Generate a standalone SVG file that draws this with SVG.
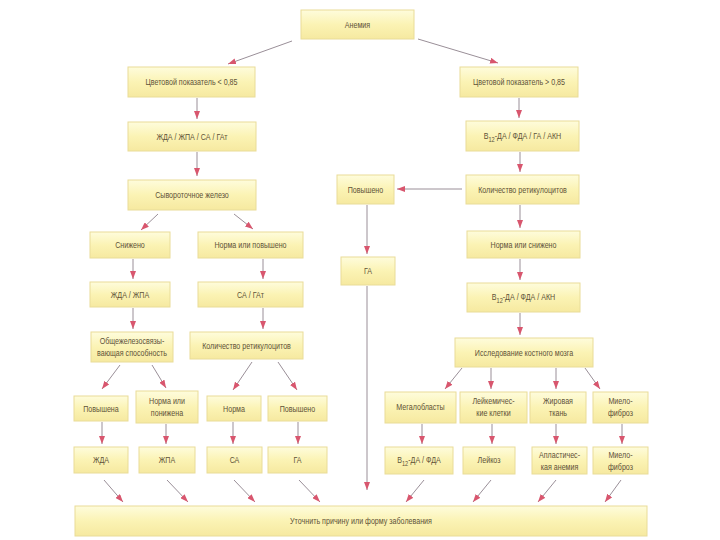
<svg xmlns="http://www.w3.org/2000/svg" width="720" height="540" viewBox="0 0 720 540">
<defs>
<linearGradient id="g" x1="0" y1="0" x2="0" y2="1">
<stop offset="0" stop-color="#fefcdc"/>
<stop offset="0.5" stop-color="#fbf3b4"/>
<stop offset="1" stop-color="#f6e9a0"/>
</linearGradient>
<marker id="ah" markerWidth="8" markerHeight="6" refX="8" refY="3" orient="auto" markerUnits="userSpaceOnUse">
<path d="M0,0 L8,3 L0,6 z" fill="#d8566e"/>
</marker>
<style>
.b rect{fill:url(#g);stroke:#e9dc98;stroke-width:1}
.b text{font-family:"Liberation Sans",Arial,sans-serif;font-size:9.5px;fill:#5e5238;text-anchor:middle}
#connectors line{stroke:#9a8f98;stroke-width:1;marker-end:url(#ah)}
</style>
</defs>
<rect width="720" height="540" fill="#ffffff"/>
<g class="b">
<g id="n1"><rect x="301" y="10" width="113" height="29"/><text transform="translate(357.5 28) scale(0.75 1)">Анемия</text></g>
<g id="n2"><rect x="128" y="67" width="127" height="30"/><text transform="translate(191.5 85) scale(0.75 1)">Цветовой показатель  &lt; 0,85</text></g>
<g id="n3"><rect x="460" y="67" width="118" height="30"/><text transform="translate(519 85) scale(0.75 1)">Цветовой показатель &gt; 0,85</text></g>
<g id="n4"><rect x="128" y="122" width="128" height="29"/><text transform="translate(192 140) scale(0.75 1)">ЖДА / ЖПА / СА / ГАт</text></g>
<g id="n5"><rect x="128" y="180" width="128" height="30"/><text transform="translate(192 198) scale(0.75 1)">Сывороточное железо</text></g>
<g id="n6"><rect x="466" y="121" width="113" height="30"/><text transform="translate(522.5 139) scale(0.75 1)">B<tspan dy="3" font-size="7.5">12</tspan><tspan dy="-3">-ДА / ФДА / ГА / АКН</tspan></text></g>
<g id="n7"><rect x="466" y="175" width="113" height="29"/><text transform="translate(522.5 193) scale(0.75 1)">Количество ретикулоцитов</text></g>
<g id="n8"><rect x="337" y="175" width="57" height="29"/><text transform="translate(365.5 193) scale(0.75 1)">Повышено</text></g>
<g id="n9"><rect x="341" y="257" width="54" height="28"/><text transform="translate(368 274) scale(0.75 1)">ГА</text></g>
<g id="n10"><rect x="467" y="231" width="113" height="27"/><text transform="translate(523.5 248) scale(0.75 1)">Норма или снижено</text></g>
<g id="n11"><rect x="467" y="283" width="113" height="29"/><text transform="translate(523.5 300) scale(0.75 1)">B<tspan dy="3" font-size="7.5">12</tspan><tspan dy="-3">-ДА / ФДА / АКН</tspan></text></g>
<g id="n12"><rect x="455" y="338" width="138" height="29"/><text transform="translate(524 356) scale(0.75 1)">Исследование костного мозга</text></g>
<g id="n13"><rect x="90" y="232" width="80" height="26"/><text transform="translate(130 248) scale(0.75 1)">Снижено</text></g>
<g id="n14"><rect x="198" y="232" width="105" height="26"/><text transform="translate(250.5 248) scale(0.75 1)">Норма или повышено</text></g>
<g id="n15"><rect x="90" y="282" width="80" height="25"/><text transform="translate(130 298) scale(0.75 1)">ЖДА / ЖПА</text></g>
<g id="n16"><rect x="198" y="282" width="105" height="25"/><text transform="translate(250.5 298) scale(0.75 1)">СА / ГАт</text></g>
<g id="n17"><rect x="91" y="332" width="82" height="30"/><text transform="translate(132 344) scale(0.75 1)">Общежелезосвязы-</text><text transform="translate(132 356) scale(0.75 1)">вающая способность</text></g>
<g id="n18"><rect x="190" y="332" width="113" height="27"/><text transform="translate(246.5 349) scale(0.75 1)">Количество ретикулоцитов</text></g>
<g id="n19"><rect x="74" y="396" width="54" height="25"/><text transform="translate(101 412) scale(0.75 1)">Повышена</text></g>
<g id="n20"><rect x="136" y="391" width="62" height="32"/><text transform="translate(167 404) scale(0.75 1)">Норма или</text><text transform="translate(167 416) scale(0.75 1)">понижена</text></g>
<g id="n21"><rect x="207" y="396" width="54" height="25"/><text transform="translate(234 412) scale(0.75 1)">Норма</text></g>
<g id="n22"><rect x="268" y="396" width="59" height="25"/><text transform="translate(297.5 412) scale(0.75 1)">Повышено</text></g>
<g id="n23"><rect x="74" y="447" width="54" height="26"/><text transform="translate(101 463) scale(0.75 1)">ЖДА</text></g>
<g id="n24"><rect x="139" y="447" width="56" height="26"/><text transform="translate(167 463) scale(0.75 1)">ЖПА</text></g>
<g id="n25"><rect x="207" y="447" width="55" height="26"/><text transform="translate(234.5 463) scale(0.75 1)">СА</text></g>
<g id="n26"><rect x="268" y="447" width="59" height="26"/><text transform="translate(297.5 463) scale(0.75 1)">ГА</text></g>
<g id="n27"><rect x="385" y="392" width="71" height="31"/><text transform="translate(420.5 410) scale(0.75 1)">Мегалобласты</text></g>
<g id="n28"><rect x="460" y="392" width="67" height="31"/><text transform="translate(493.5 404) scale(0.75 1)">Лейкемичес-</text><text transform="translate(493.5 416) scale(0.75 1)">кие клетки</text></g>
<g id="n29"><rect x="530" y="392" width="56" height="31"/><text transform="translate(558 404) scale(0.75 1)">Жировая</text><text transform="translate(558 416) scale(0.75 1)">ткань</text></g>
<g id="n30"><rect x="593" y="392" width="55" height="31"/><text transform="translate(620.5 404) scale(0.75 1)">Миело-</text><text transform="translate(620.5 416) scale(0.75 1)">фиброз</text></g>
<g id="n31"><rect x="385" y="447" width="68" height="27"/><text transform="translate(419 463) scale(0.75 1)">B<tspan dy="3" font-size="7.5">12</tspan><tspan dy="-3">-ДА / ФДА</tspan></text></g>
<g id="n32"><rect x="463" y="447" width="52" height="27"/><text transform="translate(489 463) scale(0.75 1)">Лейкоз</text></g>
<g id="n33"><rect x="532" y="447" width="55" height="27"/><text transform="translate(559.5 458) scale(0.75 1)">Апластичес-</text><text transform="translate(559.5 470) scale(0.75 1)">кая анемия</text></g>
<g id="n34"><rect x="593" y="447" width="55" height="27"/><text transform="translate(620.5 458) scale(0.75 1)">Миело-</text><text transform="translate(620.5 470) scale(0.75 1)">фиброз</text></g>
<g id="n35"><rect x="75" y="506" width="572" height="30"/><text transform="translate(361 524) scale(0.75 1)">Уточнить причину или форму заболевания</text></g>
</g>
<g id="connectors">
<line x1="292" y1="41" x2="228" y2="64"/>
<line x1="418" y1="39" x2="498" y2="63"/>
<line x1="197" y1="98" x2="197" y2="119"/>
<line x1="519" y1="98" x2="519" y2="118"/>
<line x1="197" y1="152" x2="197" y2="176"/>
<line x1="520" y1="152" x2="520" y2="172"/>
<line x1="158" y1="214" x2="141" y2="230"/>
<line x1="234" y1="214" x2="253" y2="229"/>
<line x1="462" y1="189" x2="397" y2="189"/>
<line x1="367" y1="205" x2="367" y2="254"/>
<line x1="520" y1="205" x2="520" y2="228"/>
<line x1="133" y1="259" x2="133" y2="279"/>
<line x1="263" y1="259" x2="263" y2="279"/>
<line x1="133" y1="308" x2="133" y2="329"/>
<line x1="263" y1="308" x2="263" y2="329"/>
<line x1="520" y1="259" x2="520" y2="280"/>
<line x1="520" y1="313" x2="520" y2="335"/>
<line x1="120" y1="365" x2="102" y2="389"/>
<line x1="152" y1="365" x2="166" y2="388"/>
<line x1="252" y1="362" x2="233" y2="390"/>
<line x1="278" y1="362" x2="297" y2="390"/>
<line x1="462" y1="368" x2="445" y2="389"/>
<line x1="491" y1="368" x2="491" y2="389"/>
<line x1="556" y1="368" x2="556" y2="389"/>
<line x1="585" y1="368" x2="600" y2="389"/>
<line x1="102" y1="422" x2="102" y2="444"/>
<line x1="166" y1="424" x2="166" y2="444"/>
<line x1="233" y1="422" x2="233" y2="444"/>
<line x1="298" y1="422" x2="298" y2="444"/>
<line x1="422" y1="424" x2="422" y2="444"/>
<line x1="492" y1="424" x2="492" y2="444"/>
<line x1="556" y1="424" x2="556" y2="444"/>
<line x1="622" y1="424" x2="622" y2="444"/>
<line x1="367" y1="286" x2="367" y2="490"/>
<line x1="104" y1="480" x2="123" y2="502"/>
<line x1="167" y1="480" x2="188" y2="502"/>
<line x1="234" y1="480" x2="255" y2="502"/>
<line x1="299" y1="480" x2="320" y2="502"/>
<line x1="424" y1="480" x2="406" y2="502"/>
<line x1="491" y1="480" x2="473" y2="502"/>
<line x1="556" y1="480" x2="538" y2="502"/>
<line x1="621" y1="480" x2="605" y2="502"/>
</g>
</svg>
